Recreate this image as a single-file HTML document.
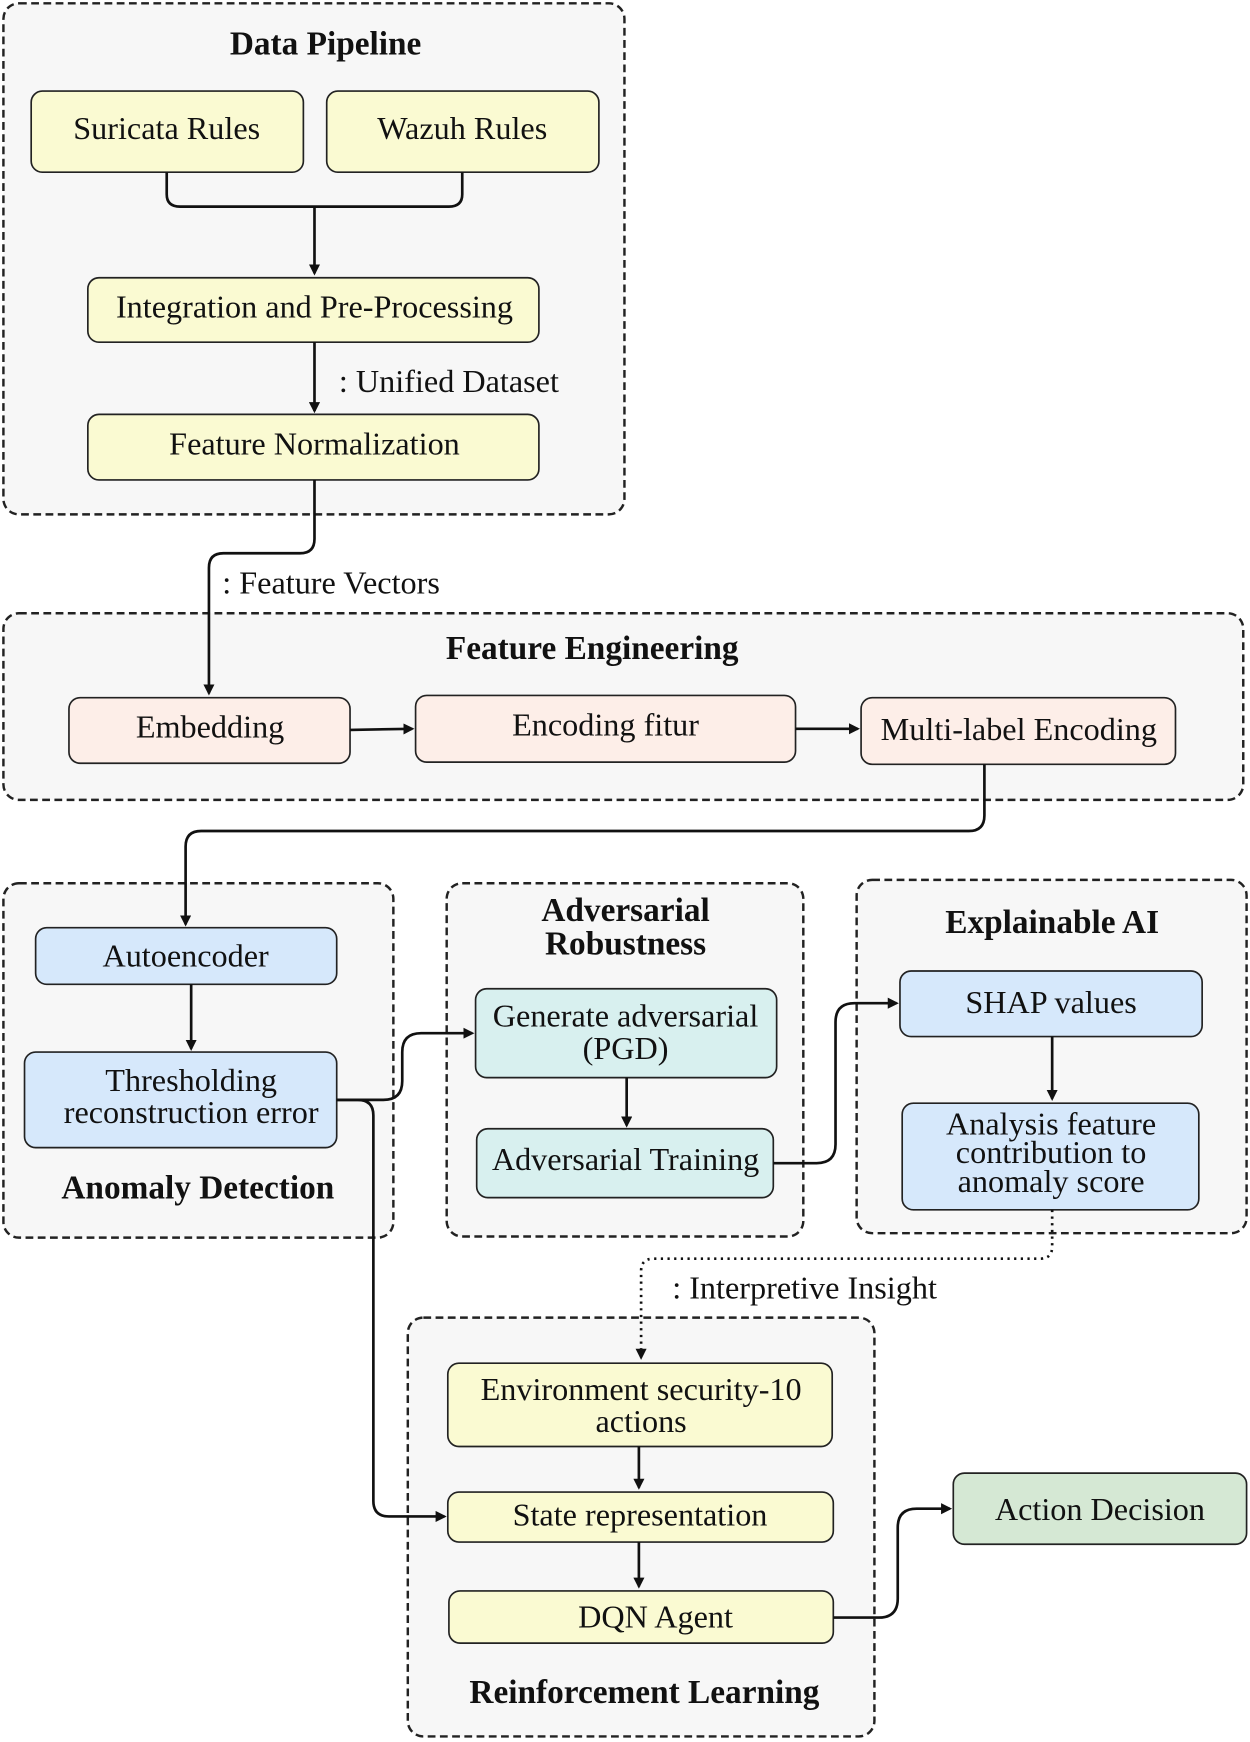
<!DOCTYPE html>
<html><head><meta charset="utf-8"><style>
html,body{margin:0;padding:0;background:#fff;}
svg{display:block;}
text{font-family:"Liberation Serif",serif;fill:#111;}
</style></head><body>
<svg width="1250" height="1742" viewBox="0 0 1125 1568" xmlns="http://www.w3.org/2000/svg">
<defs>
<marker id="a" markerWidth="10" markerHeight="10" refX="8" refY="5" orient="auto" markerUnits="userSpaceOnUse">
<path d="M0,0 L10,5 L0,10 z" fill="#111"/></marker>
</defs>
<g fill="#f7f7f7" stroke="#222" stroke-width="2.2" stroke-dasharray="7,4">
<rect x="3" y="3" width="559" height="460" rx="14"/>
<rect x="3" y="552" width="1116" height="168" rx="14"/>
<rect x="3" y="795" width="351" height="319" rx="14"/>
<rect x="402" y="795" width="321" height="318" rx="14"/>
<rect x="771" y="792" width="351" height="318" rx="14"/>
<rect x="367" y="1186" width="420" height="377" rx="14"/>
</g>
<g stroke="#222" stroke-width="1.5">
<rect x="28" y="82" width="245" height="73" rx="10" fill="#fafad2"/>
<rect x="294" y="82" width="245" height="73" rx="10" fill="#fafad2"/>
<rect x="79" y="250" width="406" height="58" rx="10" fill="#fafad2"/>
<rect x="79" y="373" width="406" height="59" rx="10" fill="#fafad2"/>
<rect x="62" y="628" width="253" height="59" rx="10" fill="#fdeee8"/>
<rect x="374" y="626" width="342" height="60" rx="10" fill="#fdeee8"/>
<rect x="775" y="628" width="283" height="60" rx="10" fill="#fdeee8"/>
<rect x="32" y="835" width="271" height="51" rx="10" fill="#d6e8fb"/>
<rect x="22" y="947" width="281" height="86" rx="10" fill="#d6e8fb"/>
<rect x="428" y="890" width="271" height="80" rx="10" fill="#d8f0ef"/>
<rect x="429" y="1016" width="267" height="62" rx="10" fill="#d8f0ef"/>
<rect x="810" y="874" width="272" height="59" rx="10" fill="#d6e8fb"/>
<rect x="812" y="993" width="267" height="96" rx="10" fill="#d6e8fb"/>
<rect x="403" y="1227" width="346" height="75" rx="10" fill="#fafad2"/>
<rect x="403" y="1343" width="347" height="45" rx="10" fill="#fafad2"/>
<rect x="404" y="1432" width="346" height="47" rx="10" fill="#fafad2"/>
<rect x="858" y="1326" width="264" height="64" rx="10" fill="#d5e8d4"/>
</g>
<g fill="none" stroke="#111" stroke-width="2.4">
<path d="M150,155 V175 Q150,186 162,186 H404 Q416,186 416,175 V155"/>
<path d="M283,186 V246" marker-end="url(#a)"/>
<path d="M283,308 V370" marker-end="url(#a)"/>
<path d="M283,432 V485 Q283,498 270,498 H201 Q188,498 188,511 V624" marker-end="url(#a)"/>
<path d="M315,657 L371,656" marker-end="url(#a)"/>
<path d="M716,656 L772,656" marker-end="url(#a)"/>
<path d="M886,688 V734 Q886,748 872,748 H181 Q167,748 167,762 V832" marker-end="url(#a)"/>
<path d="M172,886 V944" marker-end="url(#a)"/>
<path d="M303,990 H345 Q362,990 362,973 V947 Q362,930 379,930 H425" marker-end="url(#a)"/>
<path d="M303,990 H322 Q336,990 336,1004 V1351 Q336,1365 350,1365 H400" marker-end="url(#a)"/>
<path d="M564,970 V1013" marker-end="url(#a)"/>
<path d="M696,1047 H735 Q752,1047 752,1030 V920 Q752,903 769,903 H807" marker-end="url(#a)"/>
<path d="M947,933 V989" marker-end="url(#a)"/>
<path d="M575,1302 V1339" marker-end="url(#a)"/>
<path d="M575,1388 V1428" marker-end="url(#a)"/>
<path d="M750,1456 H791 Q808,1456 808,1439 V1375 Q808,1358 825,1358 H855" marker-end="url(#a)"/>
<path d="M947,1089 V1122 Q947,1133 936,1133 H588 Q577,1133 577,1144 V1222" stroke-dasharray="2,4" marker-end="url(#a)"/>
</g>
<g font-size="29" text-anchor="middle">
<text x="293" y="49" font-weight="bold" font-size="30">Data Pipeline</text>
<text x="150" y="125">Suricata Rules</text>
<text x="416" y="125">Wazuh Rules</text>
<text x="283" y="286">Integration and Pre-Processing</text>
<text x="283" y="409">Feature Normalization</text>
<text x="533" y="593" font-weight="bold" font-size="30">Feature Engineering</text>
<text x="189" y="664">Embedding</text>
<text x="545" y="662">Encoding fitur</text>
<text x="917" y="666">Multi-label Encoding</text>
<text x="167" y="870">Autoencoder</text>
<text x="172" y="982">Thresholding</text>
<text x="172" y="1011">reconstruction error</text>
<text x="178" y="1079" font-weight="bold" font-size="30">Anomaly Detection</text>
<text x="563" y="829" font-weight="bold" font-size="30">Adversarial</text>
<text x="563" y="859" font-weight="bold" font-size="30">Robustness</text>
<text x="563" y="924">Generate adversarial</text>
<text x="563" y="953">(PGD)</text>
<text x="563" y="1053">Adversarial Training</text>
<text x="947" y="840" font-weight="bold" font-size="30">Explainable AI</text>
<text x="946" y="912">SHAP values</text>
<text x="946" y="1021">Analysis feature</text>
<text x="946" y="1047">contribution to</text>
<text x="946" y="1073">anomaly score</text>
<text x="577" y="1260">Environment security-10</text>
<text x="577" y="1289">actions</text>
<text x="576" y="1373">State representation</text>
<text x="590" y="1465">DQN Agent</text>
<text x="580" y="1533" font-weight="bold" font-size="30">Reinforcement Learning</text>
<text x="990" y="1368">Action Decision</text>
</g>
<g font-size="29">
<text x="305" y="353">: Unified Dataset</text>
<text x="200" y="534">: Feature Vectors</text>
<text x="605" y="1169">: Interpretive Insight</text>
</g>
</svg>
</body></html>
